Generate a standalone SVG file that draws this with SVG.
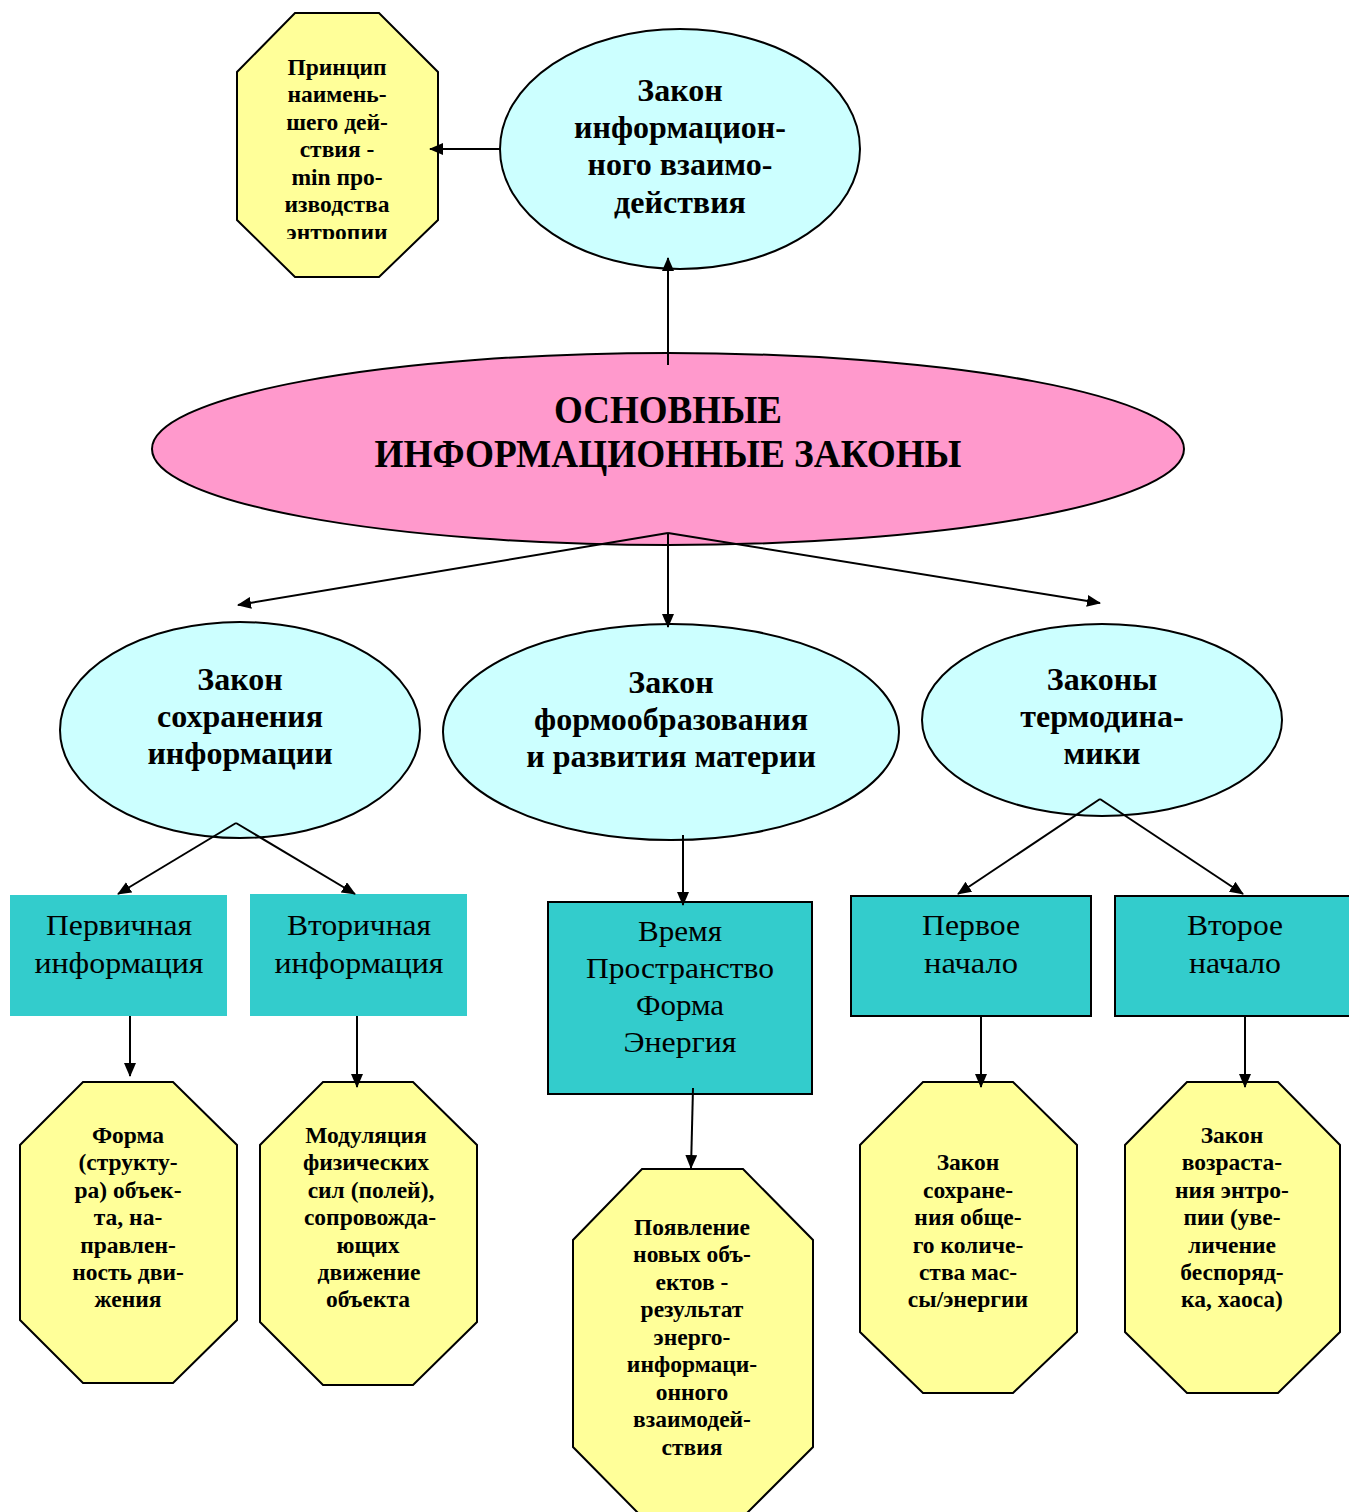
<svg xmlns="http://www.w3.org/2000/svg" width="1349" height="1512" viewBox="0 0 1349 1512" font-family="Liberation Serif">
<style>
.ell{fill:#CCFFFF;stroke:#000;stroke-width:2}
.oct{fill:#FFFF99;stroke:#000;stroke-width:2}
.box{fill:#33CCCC}
.boxs{fill:#33CCCC;stroke:#000;stroke-width:2}
.tb{font-weight:bold;text-anchor:middle;fill:#000}
.t28{font-size:32px}
.t20{font-size:23.5px}
.tr{font-size:30px;text-anchor:middle;fill:#000}
.c{stroke:#000;stroke-width:2;fill:none;marker-end:url(#ah)}
</style>
<defs>
<marker id="ah" markerWidth="14" markerHeight="12" refX="13" refY="6" orient="auto" markerUnits="userSpaceOnUse">
<path d="M0,0 L14,6 L0,12 Z" fill="#000"/>
</marker>
<clipPath id="clipTop"><rect x="230" y="10" width="220" height="229"/></clipPath>
</defs>
<rect width="1349" height="1512" fill="#fff"/>

<g id="node-principle">
<polygon class="oct" points="295,13 379,13 438,72 438,220 379,277 295,277 237,220 237,72"/>
<g clip-path="url(#clipTop)">
<text class="tb t20" x="337" y="75">Принцип</text>
<text class="tb t20" x="337" y="102">наимень-</text>
<text class="tb t20" x="337" y="130">шего дей-</text>
<text class="tb t20" x="337" y="157">ствия -</text>
<text class="tb t20" x="337" y="185">min про-</text>
<text class="tb t20" x="337" y="212">изводства</text>
<text class="tb t20" x="337" y="240">энтропии</text>
</g>
</g>

<g id="node-info-interaction">
<ellipse class="ell" cx="680" cy="149" rx="180" ry="120"/>
<text class="tb t28" x="680" y="101">Закон</text>
<text class="tb t28" x="680" y="138">информацион-</text>
<text class="tb t28" x="680" y="175">ного взаимо-</text>
<text class="tb t28" x="680" y="213">действия</text>
</g>

<g id="node-main">
<ellipse cx="668" cy="449" rx="516" ry="96" fill="#FF99CC" stroke="#000" stroke-width="2"/>
<text class="tb" style="font-size:39px" x="668" y="423" textLength="228" lengthAdjust="spacingAndGlyphs">ОСНОВНЫЕ</text>
<text class="tb" style="font-size:39px" x="668" y="467" textLength="587" lengthAdjust="spacingAndGlyphs">ИНФОРМАЦИОННЫЕ ЗАКОНЫ</text>
</g>

<g id="node-conservation">
<ellipse class="ell" cx="240" cy="730" rx="180" ry="108"/>
<text class="tb t28" x="240" y="690">Закон</text>
<text class="tb t28" x="240" y="727">сохранения</text>
<text class="tb t28" x="240" y="764">информации</text>
</g>

<g id="node-formation">
<ellipse class="ell" cx="671" cy="732" rx="228" ry="108"/>
<text class="tb t28" x="671" y="693">Закон</text>
<text class="tb t28" x="671" y="730">формообразования</text>
<text class="tb t28" x="671" y="767">и развития материи</text>
</g>

<g id="node-thermo">
<ellipse class="ell" cx="1102" cy="720" rx="180" ry="96"/>
<text class="tb t28" x="1102" y="690">Законы</text>
<text class="tb t28" x="1102" y="727">термодина-</text>
<text class="tb t28" x="1102" y="764">мики</text>
</g>

<g id="node-primary">
<rect class="box" x="10" y="895" width="217" height="121"/>
<text class="tr" x="119" y="935" textLength="146" lengthAdjust="spacingAndGlyphs">Первичная</text>
<text class="tr" x="119" y="973" textLength="169" lengthAdjust="spacingAndGlyphs">информация</text>
</g>

<g id="node-secondary">
<rect class="box" x="250" y="894" width="217" height="122"/>
<text class="tr" x="359" y="935" textLength="144" lengthAdjust="spacingAndGlyphs">Вторичная</text>
<text class="tr" x="359" y="973" textLength="169" lengthAdjust="spacingAndGlyphs">информация</text>
</g>

<g id="node-time">
<rect class="boxs" x="548" y="902" width="264" height="192"/>
<text class="tr" x="680" y="941" textLength="84" lengthAdjust="spacingAndGlyphs">Время</text>
<text class="tr" x="680" y="978" textLength="188" lengthAdjust="spacingAndGlyphs">Пространство</text>
<text class="tr" x="680" y="1015" textLength="88" lengthAdjust="spacingAndGlyphs">Форма</text>
<text class="tr" x="680" y="1052" textLength="113" lengthAdjust="spacingAndGlyphs">Энергия</text>
</g>

<g id="node-first">
<rect class="boxs" x="851" y="896" width="240" height="120"/>
<text class="tr" x="971" y="935" textLength="98" lengthAdjust="spacingAndGlyphs">Первое</text>
<text class="tr" x="971" y="973" textLength="94" lengthAdjust="spacingAndGlyphs">начало</text>
</g>

<g id="node-second">
<rect class="boxs" x="1115" y="896" width="240" height="120"/>
<text class="tr" x="1235" y="935" textLength="96" lengthAdjust="spacingAndGlyphs">Второе</text>
<text class="tr" x="1235" y="973" textLength="92" lengthAdjust="spacingAndGlyphs">начало</text>
</g>

<g id="node-form">
<polygon class="oct" points="83,1082 173,1082 237,1145 237,1320 173,1383 83,1383 20,1320 20,1145"/>
<text class="tb t20" x="128" y="1143">Форма</text>
<text class="tb t20" x="128" y="1170">(структу-</text>
<text class="tb t20" x="128" y="1198">ра) объек-</text>
<text class="tb t20" x="128" y="1225">та, на-</text>
<text class="tb t20" x="128" y="1253">правлен-</text>
<text class="tb t20" x="128" y="1280">ность дви-</text>
<text class="tb t20" x="128" y="1307">жения</text>
</g>

<g id="node-modulation">
<polygon class="oct" points="323,1082 413,1082 477,1145 477,1322 413,1385 323,1385 260,1322 260,1145"/>
<text class="tb t20" x="366" y="1143">Модуляция</text>
<text class="tb t20" x="366" y="1170">физических</text>
<text class="tb t20" x="371" y="1198">сил (полей),</text>
<text class="tb t20" x="370" y="1225">сопровожда-</text>
<text class="tb t20" x="368" y="1253">ющих</text>
<text class="tb t20" x="369" y="1280">движение</text>
<text class="tb t20" x="368" y="1307">объекта</text>
</g>

<g id="node-appearance">
<polygon class="oct" points="642,1169 743,1169 813,1240 813,1447 743,1517 642,1517 573,1447 573,1240"/>
<text class="tb t20" x="692" y="1235">Появление</text>
<text class="tb t20" x="692" y="1262">новых объ-</text>
<text class="tb t20" x="692" y="1290">ектов -</text>
<text class="tb t20" x="692" y="1317">результат</text>
<text class="tb t20" x="692" y="1345">энерго-</text>
<text class="tb t20" x="692" y="1372">информаци-</text>
<text class="tb t20" x="692" y="1400">онного</text>
<text class="tb t20" x="692" y="1427">взаимодей-</text>
<text class="tb t20" x="692" y="1455">ствия</text>
</g>

<g id="node-mass-energy">
<polygon class="oct" points="923,1082 1013,1082 1077,1145 1077,1332 1013,1393 923,1393 860,1332 860,1145"/>
<text class="tb t20" x="968" y="1170">Закон</text>
<text class="tb t20" x="968" y="1198">сохране-</text>
<text class="tb t20" x="968" y="1225">ния обще-</text>
<text class="tb t20" x="968" y="1253">го количе-</text>
<text class="tb t20" x="968" y="1280">ства мас-</text>
<text class="tb t20" x="968" y="1307">сы/энергии</text>
</g>

<g id="node-entropy">
<polygon class="oct" points="1187,1082 1278,1082 1340,1145 1340,1332 1278,1393 1187,1393 1125,1332 1125,1145"/>
<text class="tb t20" x="1232" y="1143">Закон</text>
<text class="tb t20" x="1232" y="1170">возраста-</text>
<text class="tb t20" x="1232" y="1198">ния энтро-</text>
<text class="tb t20" x="1232" y="1225">пии (уве-</text>
<text class="tb t20" x="1232" y="1253">личение</text>
<text class="tb t20" x="1232" y="1280">беспоряд-</text>
<text class="tb t20" x="1232" y="1307">ка, хаоса)</text>
</g>

<g id="connectors">
<line class="c" x1="500" y1="149" x2="430" y2="149"/>
<line class="c" x1="668" y1="365" x2="668" y2="258"/>
<line class="c" x1="668" y1="533" x2="238" y2="605"/>
<line class="c" x1="668" y1="533" x2="668" y2="627"/>
<line class="c" x1="668" y1="533" x2="1100" y2="603"/>
<line class="c" x1="236" y1="823" x2="118" y2="894"/>
<line class="c" x1="236" y1="823" x2="355" y2="894"/>
<line class="c" x1="683" y1="835" x2="683" y2="905"/>
<line class="c" x1="1100" y1="799" x2="958" y2="894"/>
<line class="c" x1="1100" y1="799" x2="1243" y2="894"/>
<line class="c" x1="130" y1="1016" x2="130" y2="1076"/>
<line class="c" x1="357" y1="1016" x2="357" y2="1087"/>
<line class="c" x1="693" y1="1088" x2="691" y2="1168"/>
<line class="c" x1="981" y1="1016" x2="981" y2="1087"/>
<line class="c" x1="1245" y1="1016" x2="1245" y2="1087"/>
</g>
</svg>
